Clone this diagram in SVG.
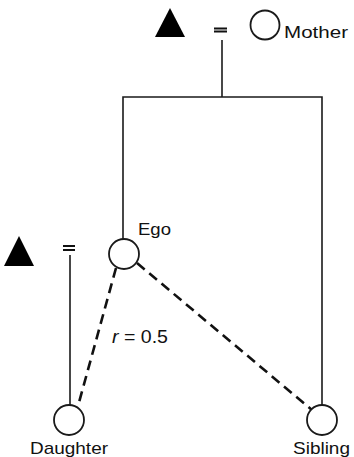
<svg xmlns="http://www.w3.org/2000/svg" width="354" height="457" viewBox="0 0 354 457">
<style>
.ln{stroke:#1a1a1a;stroke-width:1.6;fill:none}
.ds{stroke:#111;stroke-width:2.6;fill:none;stroke-dasharray:10 6}
.circ{fill:#fff;stroke:#1a1a1a;stroke-width:1.8}
.tri{fill:#000}
.eq{fill:#111}
text{font-family:"Liberation Sans",Arial,sans-serif;font-size:17px;fill:#111}
</style>
<rect width="354" height="457" fill="#fff"/>
<g id="connectors">
<polyline class="ln" points="222,40 222,97"/>
<polyline class="ln" points="123,239 123,97 322,97 322,405"/>
<line class="ln" x1="70" y1="255" x2="70" y2="405"/>
<line class="ds" x1="116" y1="268" x2="78" y2="406"/>
<line class="ds" x1="137" y1="263" x2="312" y2="410"/>
</g>
<g id="father-top">
<polygon class="tri" points="170,8 185,37 155,37"/>
</g>
<g id="marriage-top">
<rect class="eq" x="214" y="27.5" width="13" height="2"/>
<rect class="eq" x="214" y="30.5" width="13" height="2"/>
</g>
<g id="mother">
<circle class="circ" cx="265" cy="25" r="14.5"/>
<text x="284" y="38" textLength="64" lengthAdjust="spacingAndGlyphs">Mother</text>
</g>
<g id="spouse-left">
<polygon class="tri" points="19,236 34,266 4,266"/>
</g>
<g id="marriage-left">
<rect class="eq" x="63" y="245" width="12" height="2"/>
<rect class="eq" x="63" y="249" width="12" height="2"/>
</g>
<g id="ego">
<circle class="circ" cx="124" cy="254" r="15"/>
<text x="138" y="235" textLength="33" lengthAdjust="spacingAndGlyphs">Ego</text>
</g>
<g id="daughter">
<circle class="circ" cx="69" cy="420" r="15"/>
<text x="30" y="454" textLength="78" lengthAdjust="spacingAndGlyphs">Daughter</text>
</g>
<g id="sibling">
<circle class="circ" cx="322" cy="420" r="15"/>
<text x="293" y="454" textLength="57" lengthAdjust="spacingAndGlyphs">Sibling</text>
</g>
<g id="label-r">
<text x="112" y="343" style="font-size:19px" textLength="56" lengthAdjust="spacingAndGlyphs"><tspan font-style="italic">r</tspan> = 0.5</text>
</g>
</svg>
